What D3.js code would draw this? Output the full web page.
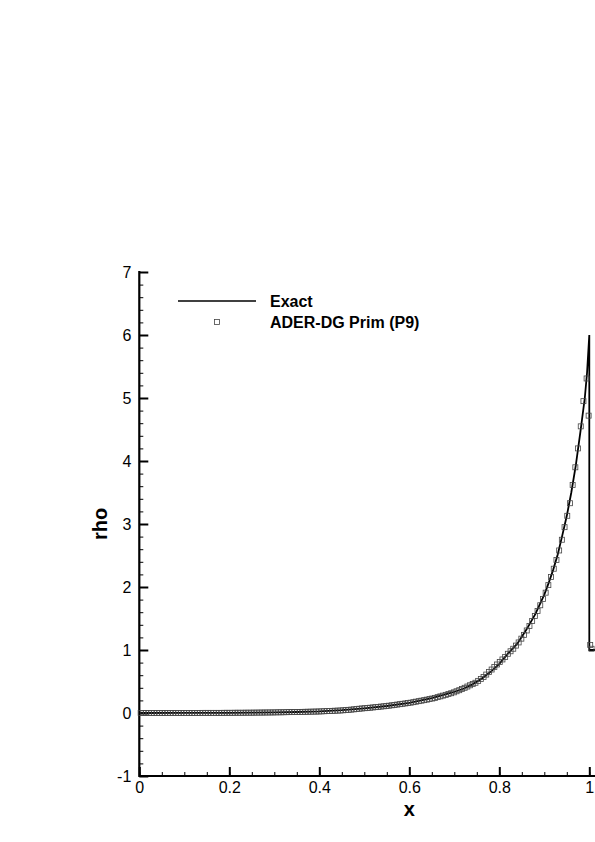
<!DOCTYPE html>
<html>
<head>
<meta charset="utf-8">
<script src="https://cdn.jsdelivr.net/npm/d3@7"></script>
<style>
  body { margin: 0; background: #fff; }
  svg { display: block; font-family: "Liberation Sans", Arial, Helvetica, sans-serif; }
</style>
</head>
<body>
<div id="main"></div>
<script>
const ctx = {
    w: 595,
    h: 842,
    x0: 139.3,     // pixel of x = 0
    pxPerX: 450,
    yTop: 272,
    yBot: 776,
};

// tick labels
const xTicks = [0, 0.2, 0.4, 0.6, 0.8, 1];
const yTicks = [-1, 0, 1, 2, 3, 4, 5, 6, 7];

// exact solution (line)
const exactX = [0, 0.1, 0.2, 0.25, 0.3, 0.35, 0.4, 0.45, 0.5, 0.55, 0.6, 0.65, 0.7, 0.72, 0.74, 0.76, 0.78, 0.8,
    0.82, 0.84, 0.86, 0.88, 0.9, 0.91, 0.92, 0.93, 0.94, 0.95, 0.96, 0.97, 0.98, 0.99, 0.995, 1.0, 1.0, 1.3];
const exactRho = [0, 0.001, 0.003, 0.005, 0.01, 0.016, 0.026, 0.046, 0.075, 0.111, 0.162, 0.236, 0.335, 0.385, 0.455, 0.54, 0.65, 0.78,
    0.95, 1.10, 1.32, 1.57, 1.88, 2.07, 2.28, 2.52, 2.82, 3.13, 3.5, 3.93, 4.45, 5.0, 5.4, 6.0, 1.0, 1.0];

// ADER-DG Prim (P9) samples (markers)
const dgX = [
    0.003, 0.009, 0.015, 0.021, 0.027, 0.033, 0.039, 0.045, 0.051, 0.057,
    0.063, 0.069, 0.075, 0.081, 0.087, 0.093, 0.099, 0.105, 0.111, 0.117,
    0.123, 0.129, 0.135, 0.141, 0.147, 0.153, 0.159, 0.165, 0.171, 0.177,
    0.183, 0.189, 0.195, 0.201, 0.207, 0.213, 0.219, 0.225, 0.231, 0.237,
    0.243, 0.249, 0.255, 0.261, 0.267, 0.273, 0.279, 0.285, 0.291, 0.297,
    0.303, 0.309, 0.315, 0.321, 0.327, 0.333, 0.339, 0.345, 0.351, 0.357,
    0.363, 0.369, 0.375, 0.381, 0.387, 0.393, 0.399, 0.405, 0.411, 0.417,
    0.423, 0.429, 0.435, 0.441, 0.447, 0.453, 0.459, 0.465, 0.471, 0.477,
    0.483, 0.489, 0.495, 0.501, 0.507, 0.513, 0.519, 0.525, 0.531, 0.537,
    0.543, 0.549, 0.555, 0.561, 0.567, 0.573, 0.579, 0.585, 0.591, 0.597,
    0.603, 0.609, 0.615, 0.621, 0.627, 0.633, 0.639, 0.645, 0.651, 0.657,
    0.663, 0.669, 0.675, 0.681, 0.687, 0.693, 0.699, 0.705, 0.711, 0.717,
    0.723, 0.729, 0.735, 0.741, 0.747, 0.753, 0.759, 0.765, 0.771, 0.777,
    0.783, 0.789, 0.795, 0.801, 0.807, 0.813, 0.819, 0.825, 0.831, 0.837,
    0.843, 0.849, 0.855, 0.861, 0.867, 0.873, 0.879, 0.885, 0.891, 0.897,
    0.903, 0.909, 0.915, 0.921, 0.927, 0.933, 0.939, 0.945, 0.951, 0.957,
    0.963, 0.969, 0.975, 0.981, 0.987, 0.994, 0.9985, 1.002, 1.005
];
const dgRho = [
    0, 0, 0, 0, 0, 0, 0, 0, 0, 0,
    0.001, 0.001, 0.001, 0.001, 0.001, 0.001, 0.001, 0.001, 0.001, 0.001,
    0.001, 0.001, 0.001, 0.002, 0.002, 0.002, 0.002, 0.002, 0.002, 0.002,
    0.002, 0.003, 0.003, 0.003, 0.003, 0.004, 0.004, 0.004, 0.004, 0.005,
    0.005, 0.005, 0.006, 0.006, 0.007, 0.007, 0.008, 0.008, 0.009, 0.009,
    0.010, 0.011, 0.011, 0.012, 0.013, 0.014, 0.014, 0.015, 0.016, 0.017,
    0.018, 0.019, 0.020, 0.021, 0.022, 0.023, 0.024, 0.026, 0.028, 0.030,
    0.032, 0.034, 0.036, 0.038, 0.040, 0.043, 0.046, 0.050, 0.054, 0.058,
    0.063, 0.068, 0.072, 0.076, 0.080, 0.084, 0.088, 0.093, 0.097, 0.102,
    0.106, 0.111, 0.116, 0.122, 0.128, 0.134, 0.140, 0.146, 0.152, 0.158,
    0.164, 0.172, 0.180, 0.188, 0.196, 0.204, 0.212, 0.221, 0.230, 0.240,
    0.252, 0.264, 0.276, 0.288, 0.300, 0.314, 0.328, 0.345, 0.362, 0.38,
    0.40, 0.42, 0.44, 0.46, 0.48, 0.51, 0.54, 0.57, 0.61, 0.65,
    0.69, 0.73, 0.77, 0.81, 0.85, 0.89, 0.94, 0.98, 1.02, 1.07,
    1.12, 1.18, 1.24, 1.31, 1.38, 1.46, 1.54, 1.62, 1.71, 1.81,
    1.91, 2.03, 2.16, 2.29, 2.43, 2.58, 2.75, 2.95, 3.13, 3.33,
    3.62, 3.90, 4.20, 4.55, 4.95, 5.31, 4.72, 1.08, 1.02
];

const legendNames = ["Exact", "ADER-DG Prim (P9)"];

// plain hyphen for negatives, like the original
const tickFmt = d => String(d);

function createViz() {
    const svg = d3.select("#main").append("svg")
        .attr("width", ctx.w)
        .attr("height", ctx.h);

    const xScale = d3.scaleLinear()
        .domain([0, 1.2])
        .range([ctx.x0, ctx.x0 + 1.2 * ctx.pxPerX]);
    const yScale = d3.scaleLinear()
        .domain([-1, 7])
        .range([ctx.yBot, ctx.yTop]);

    // minor ticks (inward)
    svg.append("g")
        .attr("transform", `translate(0, ${ctx.yBot})`)
        .call(d3.axisBottom(xScale).tickValues(d3.range(0, 1.21, 0.05)).tickSize(-4).tickFormat(""))
        .call(g => g.select(".domain").remove())
        .selectAll("line").attr("stroke", "#000").attr("stroke-width", 1);
    svg.append("g")
        .attr("transform", `translate(${ctx.x0}, 0)`)
        .call(d3.axisLeft(yScale).tickValues(d3.range(-1, 7.01, 0.2)).tickSize(-4).tickFormat(""))
        .call(g => g.select(".domain").remove())
        .selectAll("line").attr("stroke", "#000").attr("stroke-width", 1);

    // major ticks + labels
    const xAxisG = svg.append("g")
        .attr("transform", `translate(0, ${ctx.yBot})`)
        .call(d3.axisBottom(xScale).tickValues(xTicks).tickSize(-9).tickPadding(6).tickFormat(tickFmt));
    xAxisG.select(".domain").remove();
    xAxisG.selectAll("line").attr("stroke", "#000").attr("stroke-width", 2);
    xAxisG.selectAll("text")
        .attr("y", 6)
        .style("font-size", "16px")
        .attr("fill", "#000");

    const yAxisG = svg.append("g")
        .attr("transform", `translate(${ctx.x0}, 0)`)
        .call(d3.axisLeft(yScale).tickValues(yTicks).tickSize(-9).tickPadding(8).tickFormat(tickFmt));
    yAxisG.select(".domain").remove();
    yAxisG.selectAll("line").attr("stroke", "#000").attr("stroke-width", 2);
    yAxisG.selectAll("text")
        .attr("x", -8)
        .style("font-size", "16px")
        .attr("fill", "#000");

    // axis lines
    svg.append("line")
        .attr("x1", ctx.x0).attr("x2", ctx.w + 10)
        .attr("y1", ctx.yBot).attr("y2", ctx.yBot)
        .attr("stroke", "#000").attr("stroke-width", 2.2);
    svg.append("line")
        .attr("x1", ctx.x0).attr("x2", ctx.x0)
        .attr("y1", ctx.yTop - 1).attr("y2", ctx.yBot + 1)
        .attr("stroke", "#000").attr("stroke-width", 2.2);

    // axis titles
    svg.append("text")
        .attr("x", xScale(0.6))
        .attr("y", 816)
        .style("text-anchor", "middle")
        .style("font-weight", "bold")
        .style("font-size", "20px")
        .text("x");
    svg.append("text")
        .attr("transform", `translate(107, ${yScale(3)}) rotate(-90)`)
        .style("text-anchor", "middle")
        .style("font-weight", "bold")
        .style("font-size", "20px")
        .text("rho");

    // exact line
    const exactData = exactX.map((x, i) => [x, exactRho[i]]);
    const line = d3.line()
        .x(d => xScale(d[0]))
        .y(d => yScale(d[1]));
    svg.append("path")
        .datum(exactData)
        .attr("d", line)
        .attr("fill", "none")
        .attr("stroke", "#000")
        .attr("stroke-width", 1.8);

    // DG markers
    const dgData = dgX.map((x, i) => [x, dgRho[i]]);
    svg.append("g").selectAll("rect")
        .data(dgData)
        .enter()
        .append("rect")
        .attr("x", d => xScale(d[0]) - 2.5)
        .attr("y", d => yScale(d[1]) - 2.5)
        .attr("width", 5)
        .attr("height", 5)
        .attr("fill", "none")
        .attr("stroke", "#444")
        .attr("stroke-width", 0.8);

    // legend
    const lg = svg.append("g");
    lg.append("line")
        .attr("x1", 178).attr("x2", 256)
        .attr("y1", 301).attr("y2", 301)
        .attr("stroke", "#000").attr("stroke-width", 1.3);
    lg.append("rect")
        .attr("x", 214.5).attr("y", 319.5)
        .attr("width", 5).attr("height", 5)
        .attr("fill", "none").attr("stroke", "#444").attr("stroke-width", 0.8);
    lg.selectAll("text")
        .data(legendNames)
        .enter()
        .append("text")
        .attr("x", 270)
        .attr("y", (d, i) => 306.5 + i * 21)
        .style("font-weight", "bold")
        .style("font-size", "16px")
        .text(d => d);
}

createViz();
</script>
</body>
</html>
